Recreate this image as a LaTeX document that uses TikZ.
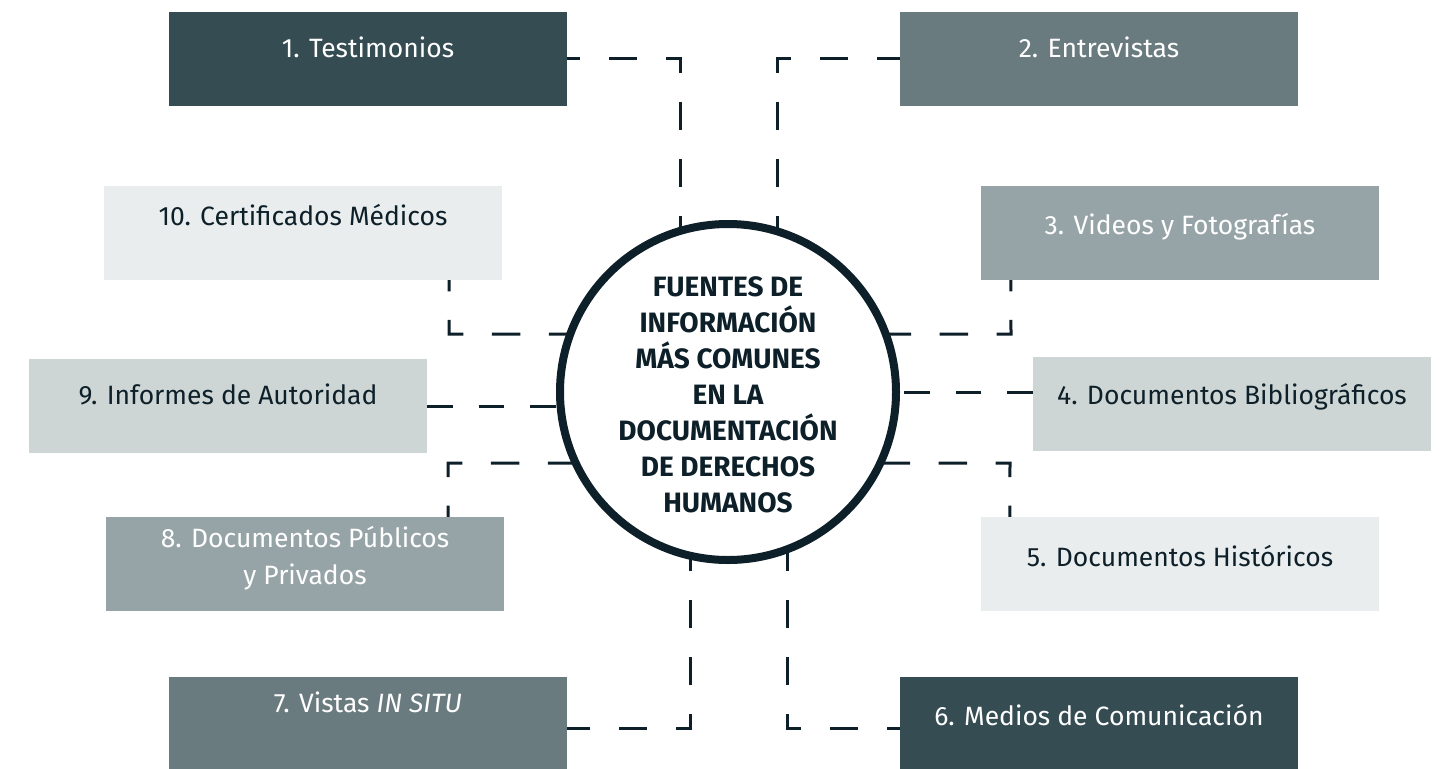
\documentclass[tikz,border=0pt]{standalone}
\usepackage{fontspec}
\setmainfont{Fira Sans}
\definecolor{ink}{HTML}{0D1F28}
\definecolor{cdark}{HTML}{344C52}
\definecolor{cmed}{HTML}{697B7F}
\definecolor{cgray}{HTML}{97A4A7}
\definecolor{clight}{HTML}{CDD6D5}
\definecolor{cvlight}{HTML}{E9EDED}
\begin{document}
\begin{tikzpicture}[x=1pt,y=-1pt,
  box/.style={rectangle, draw=none, minimum width=398pt, minimum height=94pt, inner sep=0pt},
  lbl/.style={anchor=base, inner sep=0pt, font=\fontsize{26.5}{36.5}\selectfont, align=center},
  conn/.style={draw=ink, line width=3pt, dash pattern=on 28.5pt off 28.5pt},
  connb/.style={draw=ink, line width=3pt, dash pattern=on 25.5pt off 26pt}]
\useasboundingbox (0,0) rectangle (1447,768);
\clip (0,0) rectangle (1447,768);

% boxes
\node[box, fill=cdark]   (b1)  at (368,59)   {};
\node[box, fill=cmed]    (b2)  at (1099,59)  {};
\node[box, fill=cvlight] (b10) at (303,233)  {};
\node[box, fill=cgray]   (b3)  at (1180,233) {};
\node[box, fill=clight]  (b9)  at (228,406)  {};
\node[box, fill=clight]  (b4)  at (1232,404) {};
\node[box, fill=cgray]   (b8)  at (305,564)  {};
\node[box, fill=cvlight] (b5)  at (1180,564) {};
\node[box, fill=cmed]    (b7)  at (368,724)  {};
\node[box, fill=cdark]   (b6)  at (1099,724) {};

% central circle (position reference)
\coordinate (cc) at (728,392);

% corners
\coordinate (k1)  at (680,59);
\coordinate (k2)  at (777,59);
\coordinate (k10) at (449,334);
\coordinate (k3)  at (1011,334);
\coordinate (k8)  at (448,463);
\coordinate (k5)  at (1010,463);
\coordinate (k7)  at (690,728);
\coordinate (k6)  at (787,728);

% connectors
\draw[conn, dash phase=15.25pt] (b1.east) -- (k1) -- (k1 |- cc);
\draw[conn, dash phase=5.25pt]  (b2.west) -- (k2) -- (k2 |- cc);
\draw[conn, dash phase=17.25pt] ([xshift=-53pt]b10.south east) -- (k10) -- (k10 -| cc);
\draw[conn, dash phase=17.25pt] ([xshift=30pt]b3.south west) -- (k3) -- (k3 -| cc);
\draw[connb] (b9.east) -- (b9.east -| cc);
\draw[connb] ([yshift=12pt]b4.west) -- ([yshift=12pt]b4.west -| cc);
\draw[conn, dash phase=17.25pt] ([xshift=-56pt]b8.north east) -- (k8) -- (k8 -| cc);
\draw[conn, dash phase=17.25pt] ([xshift=29pt]b5.north west) -- (k5) -- (k5 -| cc);
\draw[conn, dash phase=5.25pt]  ([yshift=-4pt]b7.east) -- (k7) -- (k7 |- cc);
\draw[conn, dash phase=15.25pt] ([yshift=-4pt]b6.west) -- (k6) -- (k6 |- cc);

\node[circle, draw=ink, line width=8pt, fill=white, minimum size=336pt, inner sep=0pt] (c) at (cc) {};
\node[inner sep=0pt, align=center, text=ink, font=\fontsize{28}{36}\selectfont\bfseries] (ct) at (728,395)
  {FUENTES DE\\INFORMACIÓN\\MÁS COMUNES\\EN LA\\DOCUMENTACIÓN\\DE DERECHOS\\HUMANOS};

% labels
\node[lbl, text=white] (t1)  at (368,58)   {1. Testimonios};
\node[lbl, text=white] (t2)  at (1099,58)  {2. Entrevistas};
\node[lbl, text=ink]   (t10) at (303,225)  {10. Certificados Médicos};
\node[lbl, text=white] (t3)  at (1180,234) {3. Videos y Fotografías};
\node[lbl, text=ink]   (t9)  at (228,404)  {9. Informes de Autoridad};
\node[lbl, text=ink]   (t4)  at (1232,404) {4. Documentos Bibliográficos};
\node[lbl, text=white] (t8)  at (305,584)  {8. Documentos Públicos\\y Privados};
\node[lbl, text=ink]   (t5)  at (1180,566) {5. Documentos Históricos};
\node[lbl, text=white] (t7)  at (368,712)  {7. Vistas \textit{IN SITU}};
\node[lbl, text=white] (t6)  at (1099,725) {6. Medios de Comunicación};
\end{tikzpicture}
\end{document}
